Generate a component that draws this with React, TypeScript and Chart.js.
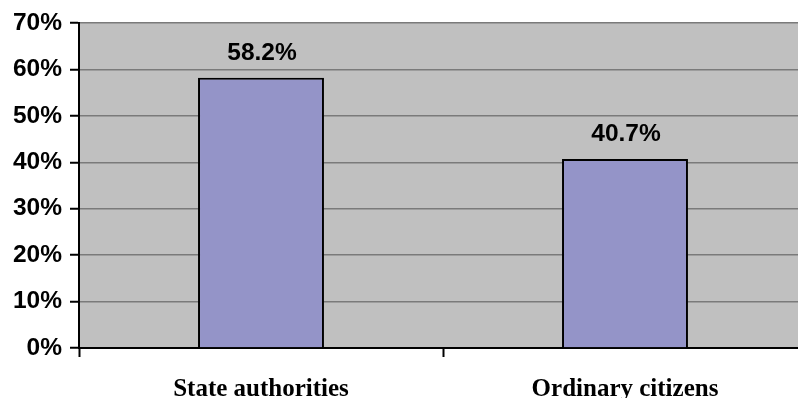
import React, { useEffect, useRef } from "react";
import { Chart, registerables } from "chart.js";

Chart.register(...registerables);

const categories: string[] = ["State authorities", "Ordinary citizens"];
const shares: number[] = [58.2, 40.7];
const yTicks: number[] = [0, 10, 20, 30, 40, 50, 60, 70];

const PLOT_BG = "#C0C0C0";
const BAR_FILL = "#9494C8";

// Grey plot-area fill behind the grid
const plotBackground = {
  id: "plotBackground",
  beforeDraw(chart: any) {
    const { ctx, chartArea } = chart;
    ctx.save();
    ctx.fillStyle = PLOT_BG;
    ctx.fillRect(chartArea.left, chartArea.top, chartArea.right - chartArea.left, chartArea.bottom - chartArea.top);
    ctx.restore();
  },
};

// Percentage written above each bar
const valueLabels = {
  id: "valueLabels",
  afterDatasetsDraw(chart: any) {
    const { ctx } = chart;
    const meta = chart.getDatasetMeta(0);
    ctx.save();
    ctx.font = 'bold 24.5px "Liberation Sans", Arial, sans-serif';
    ctx.fillStyle = "#000000";
    ctx.textAlign = "center";
    ctx.textBaseline = "alphabetic";
    meta.data.forEach((bar: any, i: number) => {
      const v = chart.data.datasets[0].data[i] as number;
      ctx.fillText(v.toFixed(1) + "%", bar.x + 1, bar.y - 18);
    });
    ctx.restore();
  },
};

export default function App() {
  const ref = useRef<HTMLCanvasElement | null>(null);

  useEffect(() => {
    if (!ref.current) return;
    const chart = new Chart(ref.current, {
      type: "bar",
      data: {
        labels: categories,
        datasets: [
          {
            data: shares,
            backgroundColor: BAR_FILL,
            borderColor: "#000000",
            borderWidth: 2,
            categoryPercentage: 1,
            barPercentage: 0.346,
          },
        ],
      },
      plugins: [plotBackground, valueLabels],
      options: {
        animation: false,
        responsive: false,
        maintainAspectRatio: false,
        layout: { padding: { top: 23, right: 3, left: 0, bottom: 0 } },
        plugins: {
          legend: { display: false },
          tooltip: { enabled: false },
          title: { display: false },
        },
        scales: {
          x: {
            type: "category",
            offset: true,
            grid: {
              offset: true,
              drawOnChartArea: false,
              drawTicks: true,
              tickLength: 9,
              tickColor: "#000000",
              tickWidth: 2,
            },
            border: { display: true, color: "#000000", width: 2 },
            ticks: {
              color: "#000000",
              padding: 18,
              maxRotation: 0,
              autoSkip: false,
              font: { family: '"Liberation Serif", "Times New Roman", serif', size: 25, weight: "bold" },
            },
            afterFit(scale: any) {
              scale.height = 50;
            },
          },
          y: {
            min: 0,
            max: 70,
            afterBuildTicks(scale: any) {
              scale.ticks = yTicks.map((v) => ({ value: v }));
            },
            grid: {
              color: "#7a7a7a",
              lineWidth: 1.5,
              drawTicks: true,
              tickLength: 9,
              tickColor: "#000000",
              tickWidth: 2,
            },
            border: { display: true, color: "#000000", width: 2 },
            ticks: {
              color: "#000000",
              padding: 8,
              font: { family: '"Liberation Sans", Arial, sans-serif', size: 24.5, weight: "bold" },
              callback: (v: any) => v + "%",
            },
            afterFit(scale: any) {
              scale.width = 79;
            },
          },
        },
      },
    });
    return () => chart.destroy();
  }, []);

  return (
    <div style={{ position: "fixed", left: 0, top: 0, width: 798, height: 398, overflow: "hidden", background: "#ffffff" }}>
      <canvas ref={ref} width={810} height={398} style={{ display: "block" }} />
    </div>
  );
}
